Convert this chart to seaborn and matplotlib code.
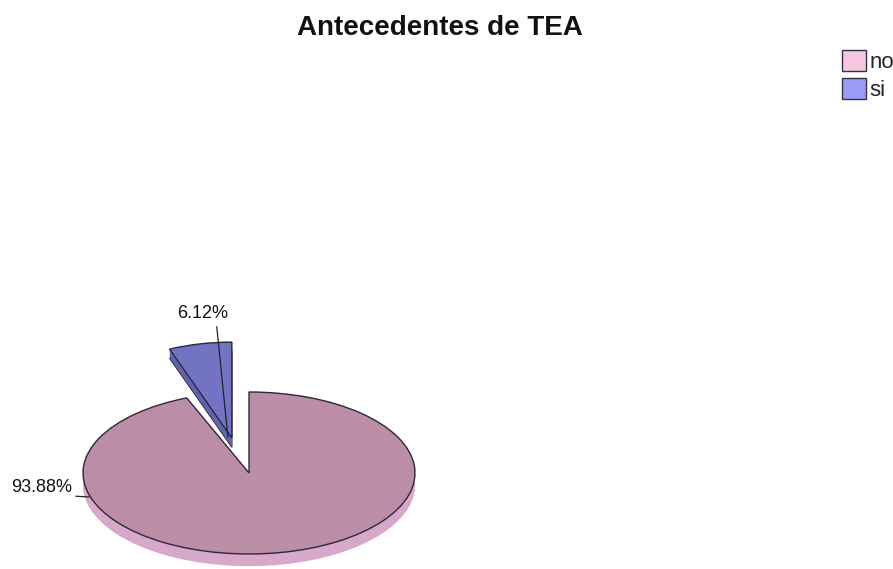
import numpy as np
import matplotlib
matplotlib.use("Agg")
import matplotlib.pyplot as plt
import seaborn as sns
from matplotlib.patches import Patch

# Share of cases with and without a history of TEA
categories = ["no", "si"]
percentages = [93.88, 6.12]

top_colors = ["#BC8DA7", "#7373C4"]
side_colors = ["#D8A8CA", "#6262B2"]
legend_colors = ["#F7C6DF", "#9C9CF6"]
explode = [0.0, 0.54]

sns.set_theme(style="white")
plt.rcParams["font.family"] = ["Liberation Sans", "DejaVu Sans"]

W, H = 893, 569
fig = plt.figure(figsize=(W / 100, H / 100), dpi=100)
fig.patch.set_facecolor("white")

start = 90 + 360 * percentages[1] / 100
edge = "#2a2a3a"
xlim = (-1.25, 1.25)


def disc_axes(cx, cy_top, rx, ry, ylim):
    """Axes in which one data unit spans rx px across and ry px down (tilted disc)."""
    left = cx + xlim[0] * rx
    bottom = (H - cy_top) + ylim[0] * ry
    ax = fig.add_axes([left / W, bottom / H,
                       (xlim[1] - xlim[0]) * rx / W, (ylim[1] - ylim[0]) * ry / H])
    ax.patch.set_alpha(0)
    return ax


def draw_disc(ax, keep, depth, ylim, side_edge, n=18):
    # side wall: stacked copies of the pie shifted downward, then the top face
    for i, h in enumerate(np.linspace(depth, 0.0, n)[:-1]):
        wedges, _ = ax.pie(percentages, explode=explode, colors=side_colors,
                           startangle=start, center=(0, -h), radius=1.0,
                           wedgeprops=dict(linewidth=side_edge if i == 0 else 0.0,
                                           edgecolor=edge))
        for j, w in enumerate(wedges):
            w.set_visible(j in keep)
    wedges, _ = ax.pie(percentages, explode=explode, colors=top_colors,
                       startangle=start, center=(0, 0), radius=1.0,
                       wedgeprops=dict(linewidth=1.0, edgecolor=edge))
    for j, w in enumerate(wedges):
        w.set_visible(j in keep)
    ax.set_aspect("auto")
    ax.set_xlim(xlim)
    ax.set_ylim(ylim)
    ax.axis("off")


# exploded "si" slice, drawn slightly taller (closer to the viewer's eye)
ylim_si = (-0.5, 2.0)
ax_si = disc_axes(249, 489, 166, 96, ylim_si)
draw_disc(ax_si, keep=[1], depth=0.095, ylim=ylim_si, side_edge=0.9)

# main disc with the "no" slice
ylim_main = (-1.2, 2.3)
ax = disc_axes(249, 473, 166, 81, ylim_main)
draw_disc(ax, keep=[0], depth=0.15, ylim=ylim_main, side_edge=0.0)

# Percentage labels with leader lines
ax.annotate(f"{percentages[0]:.2f}%", xy=(-0.964, -0.296), xytext=(-1.247, -0.235),
            ha="center", va="baseline", fontsize=13, color="#111111",
            arrowprops=dict(arrowstyle="-", color="#222222", lw=0.9,
                            relpos=(1.0, 0.0), shrinkA=0, shrinkB=0))
ax.annotate(f"{percentages[1]:.2f}%", xy=(-0.127, 0.444), xytext=(-0.28, 1.914),
            ha="center", va="baseline", fontsize=13, color="#111111",
            arrowprops=dict(arrowstyle="-", color="#222222", lw=0.9,
                            relpos=(0.77, 0.0), shrinkA=1, shrinkB=0))

fig.text(440 / W, 1 - 35 / H, "Antecedentes de TEA", ha="center", va="baseline",
         fontsize=20, fontweight="bold", color="#111111")

handles = [Patch(facecolor=c, edgecolor="#333344", linewidth=1.0) for c in legend_colors]
fig.legend(handles, categories, loc="upper left",
           bbox_to_anchor=(842 / W, 1 - 50 / H), frameon=False,
           fontsize=16, handlelength=1.08, handleheight=1.05, handletextpad=0.14,
           labelspacing=0.25, borderpad=0.0, borderaxespad=0.0)

fig.savefig("out.png", dpi=100, facecolor="white")
